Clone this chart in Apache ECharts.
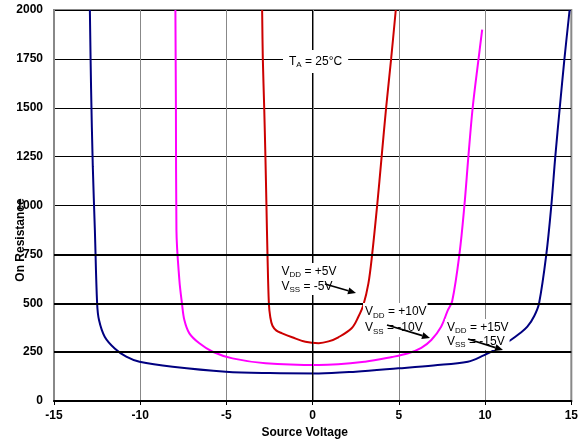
<!DOCTYPE html>
<html><head><meta charset="utf-8">
<script src="https://cdn.jsdelivr.net/npm/echarts@6/dist/echarts.min.js"></script>
<style>html,body{margin:0;padding:0;background:#fff}#c{width:581px;height:445px}</style>
</head><body><div id="c"></div>
<script>
// Axis ticks
const xTicks = [-15, -10, -5, 0, 5, 10, 15];
const yTicks = [0, 250, 500, 750, 1000, 1250, 1500, 1750, 2000];

// VDD=+5V / VSS=-5V
const v5Volt = [-2.93, -2.89, -2.81, -2.74, -2.68, -2.62, -2.54, -2.46, -2.33, -2.10, -1.77, -1.19, -0.42, 0.35, 0.92, 1.49, 2.26, 2.65, 2.94, 3.23, 3.45, 3.74, 4.00, 4.26, 4.55, 4.82];
const v5Res  = [2000, 1750, 1500, 1250, 1000, 750, 500, 430, 385, 360, 346, 326, 303, 296, 305, 326, 372, 431, 491, 600, 750, 1000, 1250, 1500, 1750, 2000];

// VDD=+10V / VSS=-10V
const v10Volt = [-7.96, -7.93, -7.90, -7.73, -7.58, -7.44, -7.15, -6.57, -5.80, -4.65, -2.73, 0.35, 3.04, 4.60, 5.54, 6.30, 6.88, 7.45, 7.84, 8.09, 8.51, 8.80, 9.03, 9.28, 9.62, 9.83];
const v10Res  = [2000, 1500, 875, 619, 500, 414, 346, 295, 252, 218, 193, 184, 201, 225, 244, 272, 312, 380, 465, 510, 750, 1000, 1250, 1500, 1750, 1900];

// VDD=+15V / VSS=-15V
const v15Volt = [-12.92, -12.85, -12.75, -12.63, -12.50, -12.39, -12.06, -11.48, -10.81, -10.04, -8.12, -5.04, -2.50, 0.35, 2.50, 4.96, 7.00, 9.00, 9.95, 10.72, 11.49, 12.00, 12.45, 12.85, 13.13, 13.55, 13.84, 14.07, 14.33, 14.60, 14.90];
const v15Res  = [2000, 1600, 1200, 875, 500, 414, 329, 269, 227, 201, 175, 150, 143, 141, 150, 167, 182, 201, 235, 269, 312, 345, 380, 435, 500, 750, 1000, 1250, 1500, 1750, 2000];

// Emphasised horizontal grid values
const boldGrid = [250, 500, 750];

const zip = (a, b) => a.map((v, i) => [v, b[i]]);

const chart = echarts.init(document.getElementById('c'), null, {renderer: 'canvas'});
const FONT = 'Liberation Sans, Arial, sans-serif';

function curve(name, color, xs, ys) {
  return {
    name, type: 'line', data: zip(xs, ys), showSymbol: false, symbol: 'none',
    smooth: 0.35, clip: true, z: 3,
    lineStyle: {color, width: 2}, itemStyle: {color}
  };
}

function arrow(x1, y1, x2, y2) {
  const dx = x2 - x1, dy = y2 - y1, L = Math.hypot(dx, dy);
  const ux = dx / L, uy = dy / L, hl = 8, hw = 3.5;
  const bx = x2 - ux * hl, by = y2 - uy * hl;
  return [
    {type: 'line', z: 60, shape: {x1, y1, x2: bx, y2: by}, style: {stroke: '#000', lineWidth: 1.7}},
    {type: 'polygon', z: 60, shape: {points: [[x2, y2], [bx - uy * hw, by + ux * hw], [bx + uy * hw, by - ux * hw]]}, style: {fill: '#000'}}
  ];
}

const rich = (lh) => ({
  m: {fontSize: 12, fontFamily: FONT, fill: '#000', lineHeight: lh},
  s: {fontSize: 8, fontFamily: FONT, fill: '#000', lineHeight: lh, verticalAlign: 'bottom'}
});

function vLabel(x, y, vdd, vss, lh) {
  return {
    type: 'text', x, y, z: 50,
    style: {
      text: '{m|V}{s|DD}{m| = ' + vdd + '}\n{m|V}{s|SS}{m| = ' + vss + '}',
      rich: rich(lh), backgroundColor: '#fff', padding: [1, 1, 1, 2]
    }
  };
}

chart.setOption({
  animation: false,
  backgroundColor: '#fff',
  grid: {left: 54, right: 7, top: 10, bottom: 44, show: true, borderColor: '#888', borderWidth: 2},
  xAxis: {
    type: 'value', min: xTicks[0], max: xTicks[xTicks.length - 1], interval: 5,
    name: 'Source Voltage', nameLocation: 'middle', nameGap: 24,
    nameTextStyle: {fontSize: 12, fontWeight: 'bold', fontFamily: FONT, color: '#000', padding: [0, 16, 0, 0]},
    axisLine: {lineStyle: {color: '#000', width: 2}},
    axisTick: {show: true, length: 4, lineStyle: {color: '#000', width: 1}},
    axisLabel: {fontSize: 12, fontWeight: 'bold', fontFamily: FONT, color: '#000', margin: 9, formatter: v => String(v)},
    splitLine: {show: true, lineStyle: {color: '#888', width: 1}}
  },
  yAxis: {
    type: 'value', min: yTicks[0], max: yTicks[yTicks.length - 1], interval: 250,
    axisLine: {show: true, lineStyle: {color: '#888', width: 2}},
    axisTick: {show: false},
    axisLabel: {fontSize: 12, fontWeight: 'bold', fontFamily: FONT, color: '#000', margin: 11, formatter: v => String(v)},
    splitLine: {show: true, lineStyle: {color: '#000', width: 1}}
  },
  series: [
    {
      type: 'line', data: [], silent: true, z: 1,
      markLine: {
        silent: true, symbol: ['none', 'none'], label: {show: false}, animation: false,
        data: [
          ...boldGrid.map(v => ({yAxis: v, lineStyle: {color: '#000', width: 2, type: 'solid'}})),
          {xAxis: 0, lineStyle: {color: '#000', width: 1, type: 'solid'}}
        ]
      }
    },
    curve('±15V', '#000080', v15Volt, v15Res),
    curve('±10V', '#FF00FF', v10Volt, v10Res),
    curve('±5V', '#CC0000', v5Volt, v5Res)
  ],
  graphic: [
    {
      type: 'text', x: 21, y: 240, rotation: Math.PI / 2, z: 50,
      style: {text: 'On Resistance', font: 'bold 12px ' + FONT, fill: '#000', align: 'center', verticalAlign: 'middle'}
    },
    {
      type: 'text', x: 283, y: 50, z: 50,
      style: {text: '{m|T}{s|A}{m| = 25°C}', rich: rich(15), backgroundColor: '#fff', padding: [4, 6, 4, 6]}
    },
    vLabel(279.5, 263, '+5V', '-5V', 15),
    vLabel(363, 303, '+10V', '-10V', 16),
    vLabel(445, 319, '+15V', '-15V', 14.5),
    ...arrow(325, 284, 356, 293),
    ...arrow(387, 325, 430, 338),
    ...arrow(468, 339, 503, 350)
  ]
});
</script>
</body></html>
